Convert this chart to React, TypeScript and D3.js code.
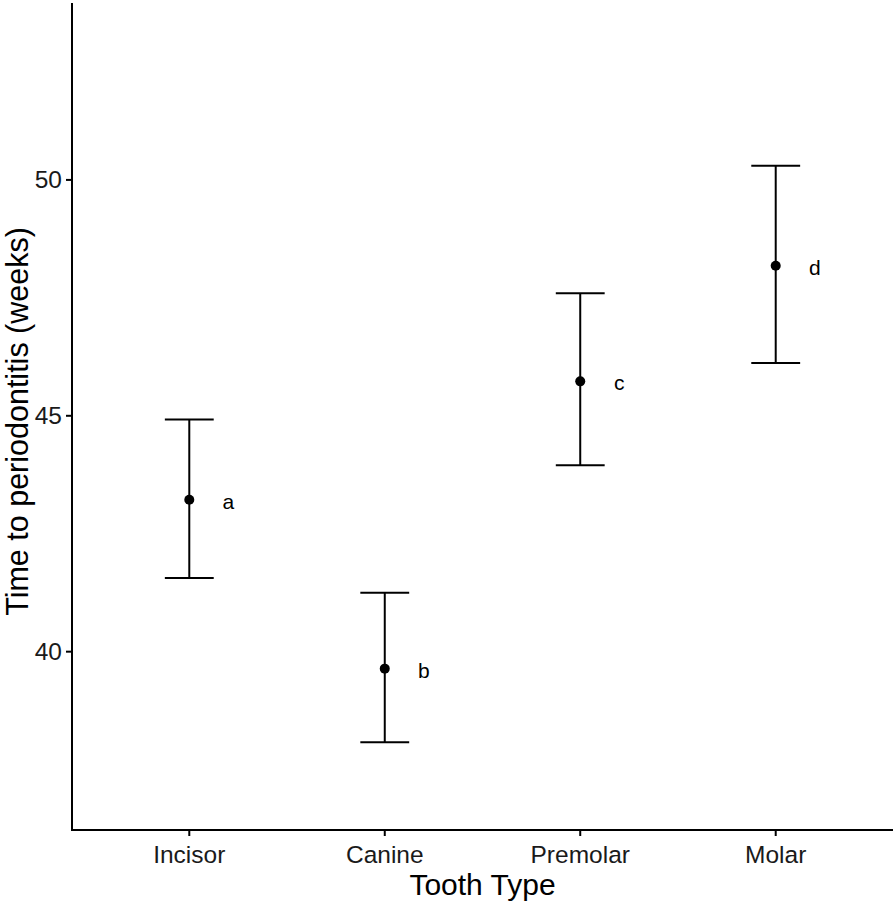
import React from "react";
import * as d3 from "d3";

const categories = ["Incisor", "Canine", "Premolar", "Molar"];
const means = [43.22, 39.64, 45.73, 48.18];
const lowers = [41.56, 38.08, 43.95, 46.12];
const uppers = [44.92, 41.25, 47.6, 50.3];
const groupLabels = ["a", "b", "c", "d"];
const yTicks = [40, 45, 50];

const W = 896;
const H = 904;
const left = 72;
const right = 893;
const top = 3;
const bottom = 830;
const font = "'Liberation Sans', Arial, sans-serif";

export default function App() {
  const x = d3.scalePoint<string>().domain(categories).range([left, right]).padding(0.6);
  const y = d3.scaleLinear().domain([36.22, 53.75]).range([bottom, top]);
  const step = x.step();
  const capHalf = step * 0.125;
  const nudge = step * 0.2;

  return (
    <svg
      width={W}
      height={H}
      style={{ position: "absolute", left: 0, top: 0, background: "#fff" }}
      fontFamily={font}
    >
      <rect x={0} y={0} width={W} height={H} fill="#fff" />
      {/* axes */}
      <line x1={left} x2={left} y1={top} y2={bottom + 1} stroke="#000" strokeWidth={2} />
      <line x1={left - 1} x2={right} y1={bottom} y2={bottom} stroke="#000" strokeWidth={2} />
      {yTicks.map((t) => (
        <g key={t}>
          <line x1={left - 6} x2={left} y1={y(t)} y2={y(t)} stroke="#000" strokeWidth={2} />
          <text x={left - 10} y={y(t)} dy="0.35em" textAnchor="end" fontSize={24.5} fill="#1a1a1a">
            {t}
          </text>
        </g>
      ))}
      {categories.map((c) => (
        <g key={c}>
          <line x1={x(c)} x2={x(c)} y1={bottom} y2={bottom + 6} stroke="#000" strokeWidth={2} />
          <text x={x(c)} y={862.5} textAnchor="middle" fontSize={24.5} fill="#1a1a1a">
            {c}
          </text>
        </g>
      ))}
      {/* error bars */}
      {categories.map((c, i) => {
        const cx = x(c) as number;
        return (
          <g key={"e" + c}>
            <line x1={cx} x2={cx} y1={y(uppers[i])} y2={y(lowers[i])} stroke="#000" strokeWidth={2} />
            <line x1={cx - capHalf} x2={cx + capHalf} y1={y(uppers[i])} y2={y(uppers[i])} stroke="#000" strokeWidth={2} />
            <line x1={cx - capHalf} x2={cx + capHalf} y1={y(lowers[i])} y2={y(lowers[i])} stroke="#000" strokeWidth={2} />
            <circle cx={cx} cy={y(means[i])} r={5} fill="#000" />
            <text x={cx + nudge} y={y(means[i]) + 9} textAnchor="middle" fontSize={21} fill="#000">
              {groupLabels[i]}
            </text>
          </g>
        );
      })}
      {/* titles */}
      <text x={(left + right) / 2} y={895} textAnchor="middle" fontSize={30} fill="#000">
        Tooth Type
      </text>
      <text
        transform={`translate(28, ${(top + bottom) / 2 + 5}) rotate(-90)`}
        textAnchor="middle"
        fontSize={30.5}
        fill="#000"
      >
        Time to periodontitis (weeks)
      </text>
    </svg>
  );
}
